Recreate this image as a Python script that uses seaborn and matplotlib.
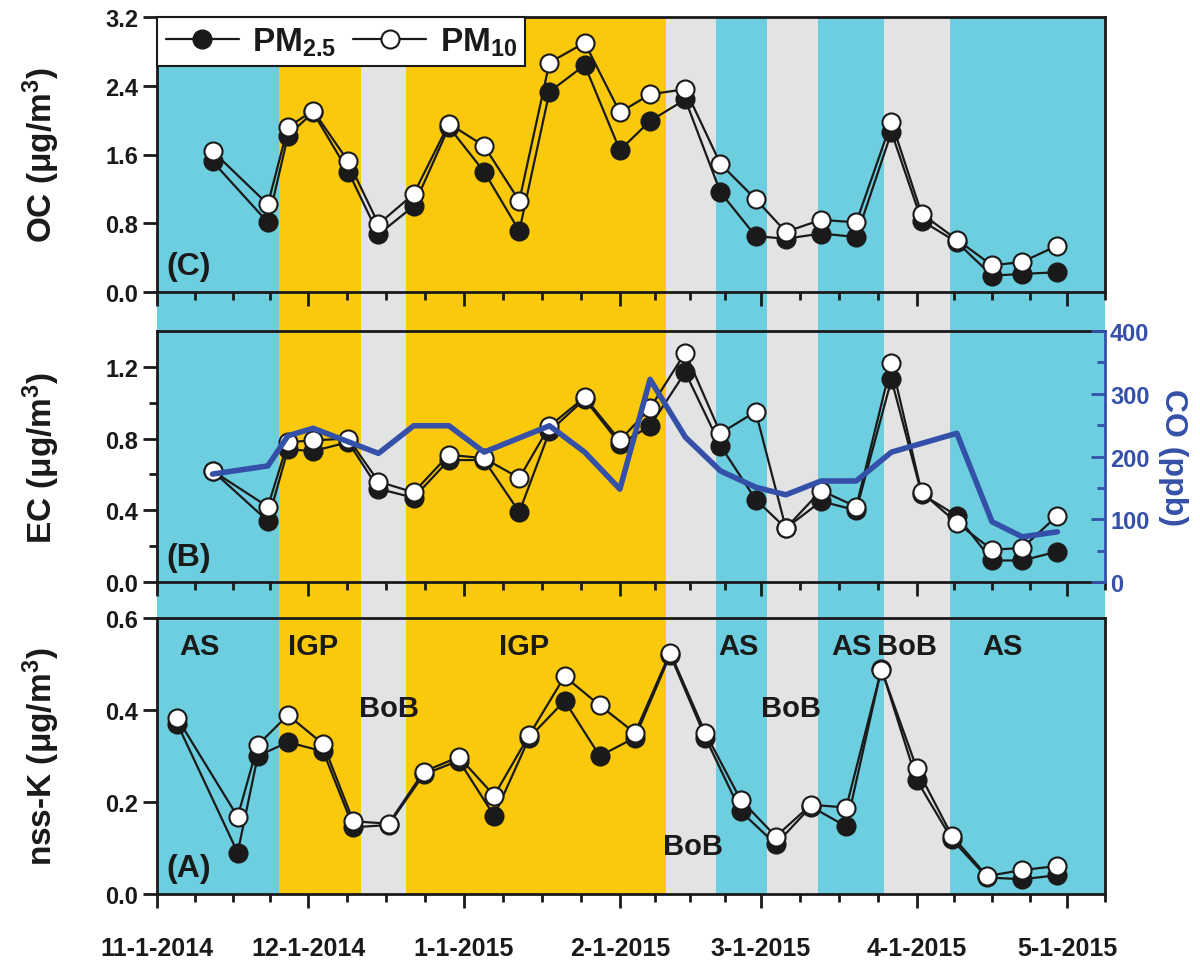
import numpy as np
import pandas as pd
import matplotlib
matplotlib.use("Agg")
import matplotlib.pyplot as plt
import seaborn as sns

# sampling dates (OC / EC) and nss-K dates
dates_ocec = ["2014-11-12", "2014-11-23", "2014-11-27", "2014-12-02", "2014-12-09", "2014-12-15",
              "2014-12-22", "2014-12-29", "2015-01-05", "2015-01-12", "2015-01-18", "2015-01-25",
              "2015-02-01", "2015-02-07", "2015-02-14", "2015-02-21", "2015-02-28", "2015-03-06",
              "2015-03-13", "2015-03-20", "2015-03-27", "2015-04-02", "2015-04-09", "2015-04-16",
              "2015-04-22", "2015-04-29"]
dates_k = ["2014-11-05", "2014-11-17", "2014-11-21", "2014-11-27", "2014-12-04", "2014-12-10",
           "2014-12-17", "2014-12-24", "2014-12-31", "2015-01-07", "2015-01-14", "2015-01-21",
           "2015-01-28", "2015-02-04", "2015-02-11", "2015-02-18", "2015-02-25", "2015-03-04",
           "2015-03-11", "2015-03-18", "2015-03-25", "2015-04-01", "2015-04-08", "2015-04-15",
           "2015-04-22", "2015-04-29"]

oc_pm25 = [1.52, 0.81, 1.82, 2.09, 1.40, 0.67, 1.00, 1.92, 1.40, 0.71, 2.33, 2.64, 1.65,
           1.99, 2.24, 1.16, 0.65, 0.62, 0.68, 0.64, 1.86, 0.83, 0.58, 0.19, 0.21, 0.23]
oc_pm10 = [1.64, 1.02, 1.92, 2.11, 1.52, 0.79, 1.14, 1.96, 1.70, 1.06, 2.67, 2.90, 2.09,
           2.30, 2.36, 1.49, 1.08, 0.70, 0.84, 0.81, 1.98, 0.91, 0.61, 0.31, 0.35, 0.54]
ec_pm25 = [0.62, 0.34, 0.74, 0.73, 0.78, 0.52, 0.47, 0.68, 0.68, 0.39, 0.84, 1.02, 0.77,
           0.87, 1.17, 0.76, 0.46, 0.30, 0.45, 0.40, 1.13, 0.49, 0.37, 0.12, 0.12, 0.17]
ec_pm10 = [0.62, 0.42, 0.78, 0.79, 0.80, 0.56, 0.50, 0.71, 0.69, 0.58, 0.87, 1.03, 0.79,
           0.97, 1.28, 0.83, 0.95, 0.30, 0.51, 0.42, 1.22, 0.50, 0.33, 0.18, 0.19, 0.37]
co_ppb = [172, 185, 233, 245, np.nan, 205, 249, 249, 207, np.nan, 249, 207, 148,
          323, 231, 177, 151, 139, 161, 161, 207, np.nan, 237, 96, 72, 80]
k_pm25 = [0.37, 0.09, 0.30, 0.33, 0.31, 0.145, 0.15, 0.26, 0.29, 0.17, 0.34, 0.42, 0.30,
          0.34, 0.52, 0.34, 0.18, 0.108, 0.19, 0.147, 0.49, 0.248, 0.119, 0.036, 0.032, 0.041]
k_pm10 = [0.382, 0.168, 0.324, 0.389, 0.326, 0.158, 0.153, 0.266, 0.298, 0.214, 0.346, 0.473, 0.41,
          0.35, 0.525, 0.35, 0.205, 0.125, 0.194, 0.188, 0.488, 0.274, 0.127, 0.039, 0.052, 0.061]

# air-mass source regions
span_edges = ["2014-11-01", "2014-11-25", "2014-12-11", "2014-12-20", "2015-02-09", "2015-02-19",
              "2015-03-01", "2015-03-11", "2015-03-24", "2015-04-06", "2015-05-06 12:00"]
span_regions = ["AS", "IGP", "BoB", "IGP", "BoB", "AS", "BoB", "AS", "BoB", "AS"]
region_colors = {"AS": "#6ccedf", "IGP": "#fbc90c", "BoB": "#e2e3e3"}

# region labels in panel A
lab_text = ["AS", "IGP", "BoB", "IGP", "BoB", "AS", "BoB", "AS", "BoB", "AS"]
lab_date = ["2014-11-09 12:00", "2014-12-02", "2014-12-17", "2015-01-13", "2015-02-15 12:00",
            "2015-02-24 16:00", "2015-03-07", "2015-03-19", "2015-03-30", "2015-04-18"]
lab_y = [0.54, 0.54, 0.404, 0.54, 0.104, 0.54, 0.404, 0.54, 0.54, 0.54]

sns.set_style("ticks")
plt.rcParams["font.family"] = ["Liberation Sans", "DejaVu Sans"]
plt.rcParams["font.weight"] = "bold"
plt.rcParams["axes.labelweight"] = "bold"
plt.rcParams["mathtext.default"] = "regular"
plt.rcParams["text.color"] = "#1a1a1a"
plt.rcParams["axes.labelcolor"] = "#1a1a1a"
plt.rcParams["xtick.color"] = "#1a1a1a"
plt.rcParams["ytick.color"] = "#1a1a1a"

d_ocec = pd.to_datetime(dates_ocec)
d_k = pd.to_datetime(dates_k)
edges = pd.to_datetime(span_edges, format="mixed")
xmin, xmax = edges[0], edges[-1]

fig = plt.figure(figsize=(12, 9.79), dpi=100)
L, W = 0.131, 0.79

# background shading across all panels and gaps
bg = fig.add_axes([L, 1 - 895 / 979, W, (895 - 18) / 979])
for a, b, r in zip(edges[:-1], edges[1:], span_regions):
    bg.axvspan(a, b, color=region_colors[r], lw=0)
bg.set_xlim(xmin, xmax)
bg.axis("off")

ax_oc = fig.add_axes([L, 1 - 293 / 979, W, 275 / 979])
ax_ec = fig.add_axes([L, 1 - 583 / 979, W, 251 / 979])
ax_k = fig.add_axes([L, 1 - 895 / 979, W, 276 / 979])

ms = 13
def draw(ax, d, y25, y10):
    sns.lineplot(x=d, y=y25, ax=ax, color="#1a1a1a", lw=1.6, marker="o", markersize=ms,
                 markerfacecolor="#1a1a1a", markeredgecolor="#1a1a1a", markeredgewidth=1.5, label="PM$_{2.5}$")
    sns.lineplot(x=d, y=y10, ax=ax, color="#1a1a1a", lw=1.6, marker="o", markersize=ms,
                 markerfacecolor="white", markeredgecolor="#1a1a1a", markeredgewidth=1.5, label="PM$_{10}$")

draw(ax_oc, d_ocec, oc_pm25, oc_pm10)
draw(ax_ec, d_ocec, ec_pm25, ec_pm10)
draw(ax_k, d_k, k_pm25, k_pm10)

blue = "#3450a8"
ax_co = ax_ec.twinx()
co = pd.Series(co_ppb, index=d_ocec).dropna()
sns.lineplot(x=co.index, y=co.values, ax=ax_co, color=blue, lw=4)
ax_co.set_ylim(0, 400)
ax_co.set_yticks([0, 100, 200, 300, 400])
ax_co.set_yticks(np.arange(50, 400, 100), minor=True)
ax_co.tick_params(axis="y", colors=blue, direction="in", length=10, width=2, labelsize=17)
ax_co.tick_params(axis="y", which="minor", direction="in", length=6, width=2, colors=blue)
ax_co.set_ylabel("CO (ppb)", color=blue, fontsize=23, rotation=270, labelpad=28)
for s in ax_co.spines.values():
    s.set_visible(False)
ax_co.spines["right"].set_visible(True)
ax_co.spines["right"].set_color(blue)
ax_co.spines["right"].set_linewidth(2)
ax_co.patch.set_visible(False)

panels = [(ax_oc, (0, 3.2), np.arange(0, 3.3, 0.8), None, "OC (μg/m$^3$)", "(C)"),
          (ax_ec, (0, 1.4), np.arange(0, 1.3, 0.4), np.arange(0.2, 1.4, 0.4), "EC (μg/m$^3$)", "(B)"),
          (ax_k, (0, 0.6), np.arange(0, 0.61, 0.2), None, "nss-K (μg/m$^3$)", "(A)")]
months = pd.to_datetime(["2014-11-01", "2014-12-01", "2015-01-01", "2015-02-01", "2015-03-01",
                         "2015-04-01", "2015-05-01"])
minor = []
for a, b in zip(months[:-1], months[1:]):
    for f in (0.25, 0.5, 0.75):
        minor.append(a + (b - a) * f)
minor.append(months[-1] + (months[-1] - months[-2]) * 0.25)

for ax, yl, yt, ymt, lab, tag in panels:
    ax.patch.set_visible(False)
    ax.set_xlim(xmin, xmax)
    ax.set_ylim(*yl)
    ax.set_yticks(yt)
    ax.set_yticklabels([f"{v:.1f}" for v in yt])
    if ymt is not None:
        ax.set_yticks(ymt, minor=True)
    ax.set_xticks(months)
    ax.set_xticks(minor, minor=True)
    ax.tick_params(axis="both", direction="out", length=10, width=2, labelsize=17)
    ax.tick_params(axis="both", which="minor", direction="out", length=6, width=2)
    ax.set_ylabel(lab, fontsize=24, labelpad=10)
    ax.set_xlabel("")
    for s in ax.spines.values():
        s.set_linewidth(2)
        s.set_color("#1a1a1a")
    ax.text(0.01, 0.04, tag, transform=ax.transAxes, fontsize=23, ha="left", va="bottom")
    if ax is not ax_k:
        ax.tick_params(axis="x", labelbottom=False)
    if ax.get_legend() is not None:
        ax.get_legend().remove()

ax_ec.spines["right"].set_visible(False)
ax_k.set_xticklabels([f"{m.month}-{m.day}-{m.year}" for m in months])
ax_k.tick_params(axis="x", pad=20, labelsize=18)
for ax in (ax_oc, ax_ec, ax_k):
    ax.yaxis.set_label_coords(-0.1, 0.5)

for t, d, y in zip(lab_text, pd.to_datetime(lab_date, format="mixed"), lab_y):
    ax_k.text(d, y, t, fontsize=21, ha="center", va="center")

h, l = ax_oc.get_legend_handles_labels()
leg = ax_oc.legend(h, l, loc="upper left", ncol=2, fontsize=24, frameon=True, fancybox=False,
                   borderaxespad=0, handlelength=2.2, columnspacing=0.5, handletextpad=0.4,
                   borderpad=0.25)
leg.get_frame().set_edgecolor("#1a1a1a")
leg.get_frame().set_linewidth(1.5)
leg.get_frame().set_facecolor("white")
leg.get_frame().set_alpha(1)

fig.savefig("out.png", dpi=100)
